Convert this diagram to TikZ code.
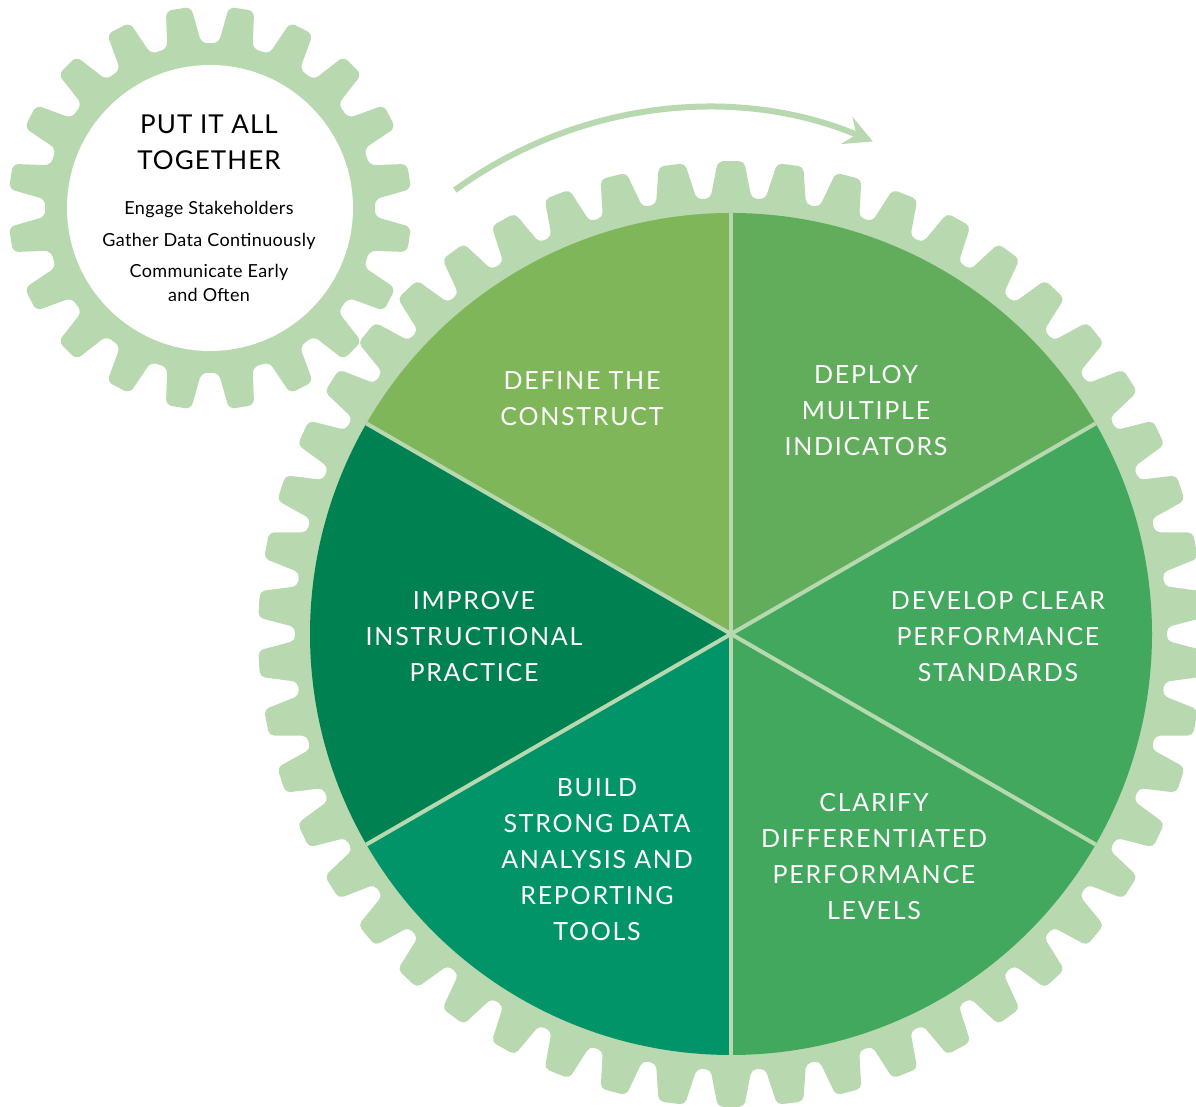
\documentclass[tikz,border=0pt]{standalone}
\usepackage{fontspec}
\setmainfont{Lato}
\usetikzlibrary{arrows.meta,calc}
\definecolor{gearc}{HTML}{B8D8AF}
\definecolor{cdefine}{HTML}{80B65A}
\definecolor{cdeploy}{HTML}{62AD5C}
\definecolor{cdevelop}{HTML}{42A85E}
\definecolor{cclarify}{HTML}{42A85E}
\definecolor{cbuild}{HTML}{009468}
\definecolor{cimprove}{HTML}{008151}
\begin{document}
\begin{tikzpicture}[x=1pt,y=1pt,
  lbl/.style={text=white, align=center, font=\fontsize{25}{36}\selectfont\addfontfeatures{LetterSpace=7}, inner sep=0pt, text depth=0pt},
  smalltxt/.style={text=black, align=center, font=\fontsize{18}{24}\selectfont\addfontfeatures{LetterSpace=2}, inner sep=0pt},
  titletxt/.style={text=black, align=center, font=\fontsize{26}{36}\selectfont\addfontfeatures{LetterSpace=4}, inner sep=0pt, text depth=0pt},
  sepline/.style={draw=gearc, line width=4pt},
  gearfill/.style={fill=gearc, rounded corners=5pt}]
\useasboundingbox (0,0) rectangle (1196,1107);
\clip (0,0) rectangle (1196,1107);

\coordinate (C) at (731,473);
\coordinate (S) at (210,899);

% big gear
\begin{scope}[shift={(C)}]
  \fill[gearfill] (86.4:436)
    \foreach \i [evaluate=\i as \a using 90+7.2*\i] in {0,...,49}{
      -- ({\a-2.7}:436) -- ({\a-1.6}:473) -- ({\a+1.6}:473) -- ({\a+2.7}:436)
    } -- cycle;
  \fill[cdefine]  (0,0) -- (90:421)  arc[start angle=90,  end angle=150, radius=421pt] -- cycle;
  \fill[cdeploy]  (0,0) -- (30:421)  arc[start angle=30,  end angle=90,  radius=421pt] -- cycle;
  \fill[cdevelop] (0,0) -- (-30:421) arc[start angle=-30, end angle=30,  radius=421pt] -- cycle;
  \fill[cclarify] (0,0) -- (-90:421) arc[start angle=-90, end angle=-30, radius=421pt] -- cycle;
  \fill[cbuild]   (0,0) -- (210:421) arc[start angle=210, end angle=270, radius=421pt] -- cycle;
  \fill[cimprove] (0,0) -- (150:421) arc[start angle=150, end angle=210, radius=421pt] -- cycle;
  \draw[sepline] (90:421) -- (270:421);
  \draw[sepline] (30:421) -- (210:421);
  \draw[sepline] (150:421) -- (330:421);
\end{scope}

% small gear
\begin{scope}[shift={(S)}]
  \fill[gearfill, rounded corners=6pt] (0:165)
    \foreach \i [evaluate=\i as \a using 9+18*\i] in {0,...,19}{
      -- ({\a-6.0}:165) -- ({\a-3.6}:202) -- ({\a+3.6}:202) -- ({\a+6.0}:165)
    } -- cycle;
  \fill[white] (0,0) circle[radius=143pt];
\end{scope}

% rotation arrow
\coordinate (arcS) at ($(707,571)+(126.1:428)$);
\draw[gearc, line width=6pt, -{Stealth[length=28pt,width=29pt,inset=10pt]}]
  (arcS) arc[start angle=126.1, end angle=67.2, radius=428pt];

% small gear texts
\node[titletxt] (title) at (209,965) {PUT IT ALL\\TOGETHER};
\node[smalltxt, anchor=base] (engage) at (209,892) {Engage Stakeholders};
\node[smalltxt, anchor=base] (gather) at (209,860) {Gather Data Continuously};
\node[smalltxt, anchor=base] (comm) at (209,829) {Communicate Early};
\node[smalltxt, anchor=base] (often) at (209,805) {and Often};

% big gear labels
\node[lbl] (define)  at (582,708) {DEFINE THE\\CONSTRUCT};
\node[lbl] (deploy)  at (866,697) {DEPLOY\\MULTIPLE\\INDICATORS};
\node[lbl] (develop) at (998,471) {DEVELOP CLEAR\\PERFORMANCE\\STANDARDS};
\node[lbl] (clarify) at (874,251) {CLARIFY\\DIFFERENTIATED\\PERFORMANCE\\LEVELS};
\node[lbl] (build)   at (597,247) {BUILD\\STRONG DATA\\ANALYSIS AND\\REPORTING\\TOOLS};
\node[lbl] (improve) at (474,471) {IMPROVE\\INSTRUCTIONAL\\PRACTICE};
\end{tikzpicture}
\end{document}
